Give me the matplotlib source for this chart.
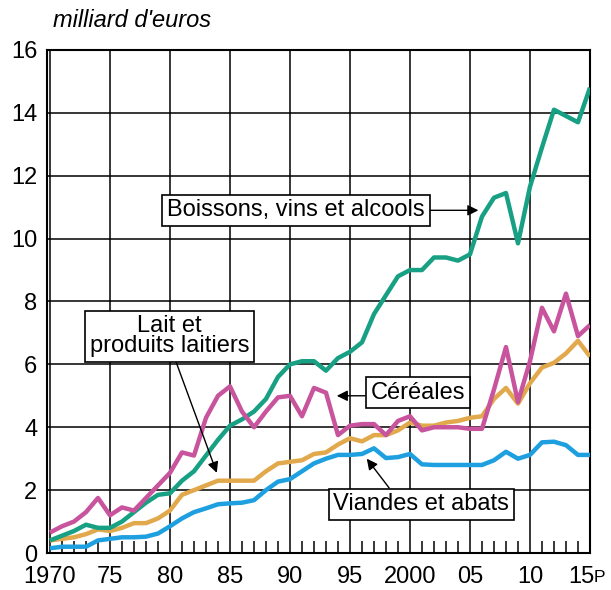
import matplotlib
matplotlib.use("Agg")
import matplotlib.pyplot as plt
import matplotlib.transforms as mtransforms

plt.rcParams["font.family"] = ["Liberation Sans", "DejaVu Sans"]

years = list(range(1970, 2016))

boissons = [0.4, 0.55, 0.7, 0.9, 0.8, 0.8, 1.0, 1.3, 1.6, 1.85,
            1.9, 2.3, 2.6, 3.1, 3.6, 4.05, 4.25, 4.5, 4.9, 5.6,
            6.0, 6.1, 6.1, 5.8, 6.2, 6.4, 6.7, 7.6, 8.2, 8.8,
            9.0, 9.0, 9.4, 9.4, 9.3, 9.5, 10.7, 11.3, 11.45, 9.85,
            11.65, 12.9, 14.1, 13.9, 13.7, 14.8]
cereales = [0.65, 0.85, 1.0, 1.3, 1.75, 1.2, 1.45, 1.35, 1.75, 2.15,
            2.55, 3.2, 3.1, 4.3, 5.0, 5.3, 4.5, 4.0, 4.5, 4.95,
            5.0, 4.35, 5.25, 5.1, 3.75, 4.05, 4.1, 4.1, 3.75, 4.2,
            4.35, 3.9, 4.0, 4.0, 4.0, 3.95, 3.95, 5.2, 6.55, 4.8,
            6.1, 7.8, 7.05, 8.25, 6.9, 7.25]
lait = [0.4, 0.45, 0.5, 0.6, 0.75, 0.7, 0.8, 0.95, 0.95, 1.1,
        1.35, 1.85, 2.0, 2.15, 2.3, 2.3, 2.3, 2.3, 2.6, 2.85,
        2.9, 2.95, 3.15, 3.2, 3.45, 3.65, 3.55, 3.75, 3.75, 3.9,
        4.15, 4.05, 4.05, 4.15, 4.2, 4.3, 4.35, 4.9, 5.25, 4.75,
        5.4, 5.9, 6.05, 6.35, 6.75, 6.25]
viandes = [0.15, 0.2, 0.2, 0.2, 0.4, 0.45, 0.5, 0.5, 0.52, 0.62,
           0.85, 1.1, 1.3, 1.42, 1.55, 1.58, 1.6, 1.68, 2.0, 2.27,
           2.35, 2.6, 2.85, 3.0, 3.12, 3.12, 3.15, 3.33, 3.02, 3.05,
           3.15, 2.82, 2.8, 2.8, 2.8, 2.8, 2.8, 2.95, 3.22, 3.0,
           3.12, 3.52, 3.54, 3.43, 3.12, 3.12]

tick_years = [1970, 1975, 1980, 1985, 1990, 1995, 2000, 2005, 2010, 2015]
tick_labels = ["1970", "75", "80", "85", "90", "95", "2000", "05", "10", "15"]

fig = plt.figure(figsize=(6.11, 5.9), dpi=100)
ax = fig.add_axes([0.0769, 0.0627, 0.8887, 0.8526])

ax.plot(years, viandes, color="#1e9fe0", lw=3.2, solid_capstyle="butt", zorder=3)
ax.plot(years, lait, color="#e2a94c", lw=3.2, solid_capstyle="butt", zorder=3)
ax.plot(years, boissons, color="#17a083", lw=3.2, solid_capstyle="butt", zorder=4)
ax.plot(years, cereales, color="#c8549d", lw=3.2, solid_capstyle="butt", zorder=5)

ax.set_xlim(1969.75, 2015)
ax.set_ylim(0, 16)
ax.set_yticks(range(0, 17, 2))
ax.set_xticks(tick_years)
ax.set_xticklabels(tick_labels)
ax.set_xticks(years, minor=True)
ax.grid(True, which="major", color="black", lw=1.1, zorder=1)
ax.tick_params(axis="x", which="major", length=0, labelsize=17, pad=9)
ax.tick_params(axis="x", which="minor", direction="in", length=9, width=1.1,
               color="black")
ax.tick_params(axis="y", length=0, labelsize=17, pad=7)
for s in ax.spines.values():
    s.set_linewidth(1.5)

# "15P": shift label and add the small P
last = ax.get_xticklabels()[-1]
last.set_transform(last.get_transform()
                   + mtransforms.ScaledTranslation(-9 / 100, 0, fig.dpi_scale_trans))
ax.annotate("P", xy=(1, 0.12), xycoords=last, fontsize=12.5, ha="left", va="bottom")

fig.text(0.087, 0.966, "milliard d'euros", fontsize=17, style="italic",
         ha="left", va="center")

box = dict(boxstyle="square,pad=0.2", fc="white", ec="black", lw=1.2)
arrow = dict(arrowstyle="-|>", color="black", lw=1.0, mutation_scale=16,
             shrinkA=0, shrinkB=0)

ax.annotate("Boissons, vins et alcools", xy=(2005.7, 10.9), xytext=(1990.5, 10.9),
            fontsize=17, ha="center", va="center", bbox=box, arrowprops=arrow,
            zorder=6)
ax.annotate("Lait et\nproduits laitiers", xy=(1983.9, 2.55), xytext=(1979.95, 6.9),
            fontsize=17, ha="center", va="center", linespacing=0.85, bbox=box,
            arrowprops=dict(arrow, relpos=(0.53, 0)), zorder=6)
ax.annotate("Céréales", xy=(1993.9, 5.0), xytext=(2000.65, 5.1),
            fontsize=17, ha="center", va="center", bbox=box,
            arrowprops=dict(arrow, relpos=(0, 0.36)), zorder=6)
ax.annotate("Viandes et abats", xy=(1996.4, 3.0), xytext=(2000.95, 1.55),
            fontsize=17, ha="center", va="center", bbox=box,
            arrowprops=dict(arrow, relpos=(0.34, 1)), zorder=6)

fig.savefig("out.png", dpi=100)
